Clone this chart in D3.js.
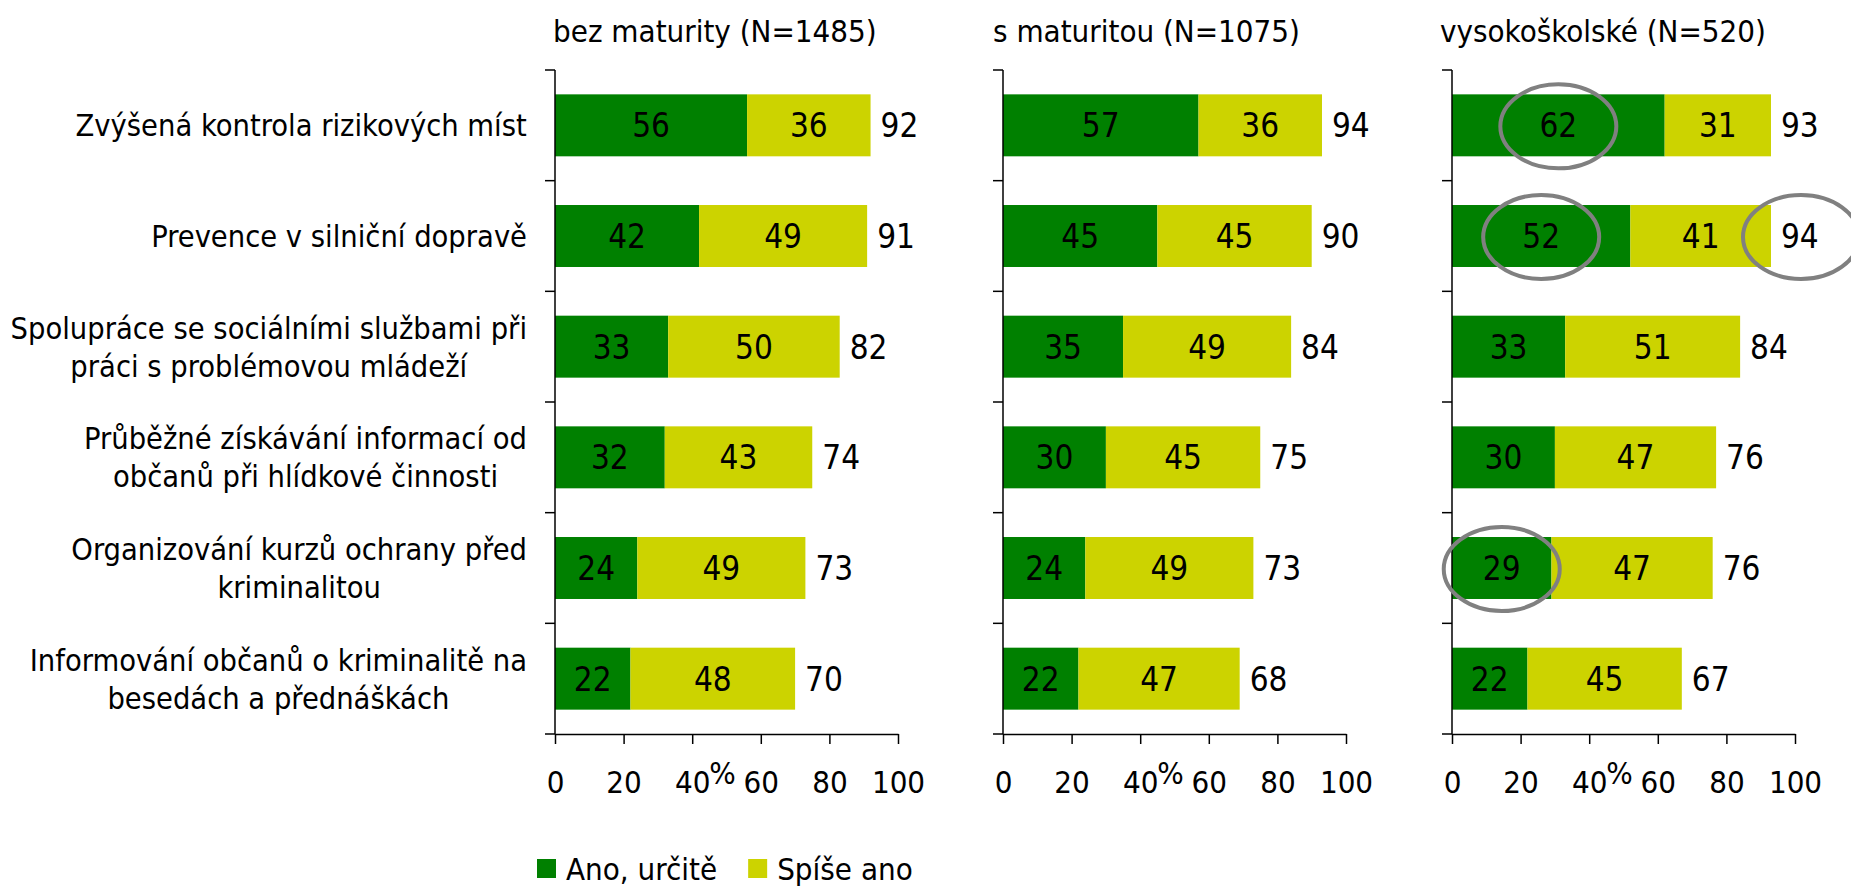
<!DOCTYPE html>
<html>
<head>
<meta charset="utf-8">
<script src="https://cdn.jsdelivr.net/npm/d3@7"></script>
<style>
  body { margin: 0; background: #fff; }
  svg text { font-family: "DejaVu Sans Condensed", "DejaVu Sans", sans-serif; font-stretch: condensed; fill: #000; }
</style>
</head>
<body>
<svg width="1851" height="888"></svg>
<script>
// data
const categories = [
  "Zvýšená kontrola rizikových míst",
  "Prevence v silniční dopravě",
  "Spolupráce se sociálními službami při\npráci s problémovou mládeží",
  "Průběžné získávání informací od\nobčanů při hlídkové činnosti",
  "Organizování kurzů ochrany před\nkriminalitou",
  "Informování občanů o kriminalitě na\nbesedách a přednáškách"
];
const groups = ["bez maturity (N=1485)", "s maturitou (N=1075)", "vysokoškolské (N=520)"];
const anoUrcite = [
  [56, 42, 33, 32, 24, 22],
  [57, 45, 35, 30, 24, 22],
  [62, 52, 33, 30, 29, 22]
];
const spiseAno = [
  [36, 49, 50, 43, 49, 48],
  [36, 45, 49, 45, 49, 47],
  [31, 41, 51, 47, 47, 45]
];
const totals = [
  [92, 91, 82, 74, 73, 70],
  [94, 90, 84, 75, 73, 68],
  [93, 94, 84, 76, 76, 67]
];
const xTicks = [0, 20, 40, 60, 80, 100];
const legendLabels = ["Ano, určitě", "Spíše ano"];
// gray circles drawn in the source (panel, row, which label)
const highlights = [
  {panel: 2, row: 0, part: "ano"},
  {panel: 2, row: 1, part: "ano"},
  {panel: 2, row: 1, part: "total"},
  {panel: 2, row: 4, part: "ano"}
];

const colors = ["#008000", "#ccd300"];

const svg = d3.select("svg");
const plotTop = 70, plotBottom = 734;
const panelLeft = [555, 1003, 1452];
const panelWidth = 343;
const titleShift = [-2, -10, -12];

const y = d3.scaleBand()
    .domain(d3.range(categories.length))
    .range([plotTop, plotBottom])
    .paddingInner(0.44)
    .paddingOuter(0.22);

// category labels (left), lines centred on each other, block right aligned
const catG = svg.append("g").attr("class", "categories");
categories.forEach((c, i) => {
  const lines = c.split("\n");
  const g = catG.append("g");
  const cy = y(i) + y.bandwidth() / 2;
  lines.forEach((l, j) => {
    g.append("text")
      .attr("x", 0)
      .attr("y", cy + (j - (lines.length - 1) / 2) * 38)
      .attr("dy", "0.36em")
      .attr("text-anchor", "middle")
      .style("font-size", "30.5px")
      .text(l);
  });
  const bb = g.node().getBBox();
  g.attr("transform", `translate(${527 - (bb.x + bb.width)},0)`);
});

groups.forEach((name, p) => {
  const x = d3.scaleLinear().domain([0, 100]).range([panelLeft[p], panelLeft[p] + panelWidth]);
  const g = svg.append("g").attr("class", "panel");

  g.append("text")
    .attr("x", panelLeft[p] + titleShift[p])
    .attr("y", 42)
    .style("font-size", "31px")
    .text(name);

  const rows = categories.map((c, i) => ({i, ano: anoUrcite[p][i], spise: spiseAno[p][i], total: totals[p][i]}));

  // bars
  g.selectAll(".ano")
    .data(rows)
    .join("rect")
      .attr("class", "ano")
      .attr("x", x(0))
      .attr("y", d => y(d.i))
      .attr("width", d => x(d.ano) - x(0))
      .attr("height", y.bandwidth())
      .attr("fill", colors[0]);

  g.selectAll(".spise")
    .data(rows)
    .join("rect")
      .attr("class", "spise")
      .attr("x", d => x(d.ano))
      .attr("y", d => y(d.i))
      .attr("width", d => x(d.ano + d.spise) - x(d.ano))
      .attr("height", y.bandwidth())
      .attr("fill", colors[1]);

  // value labels
  g.selectAll(".lab-ano")
    .data(rows)
    .join("text")
      .attr("class", "lab-ano")
      .attr("x", d => x(d.ano / 2))
      .attr("y", d => y(d.i) + y.bandwidth() / 2)
      .attr("dy", "0.36em")
      .attr("text-anchor", "middle")
      .style("font-size", "33px")
      .text(d => d.ano);

  g.selectAll(".lab-spise")
    .data(rows)
    .join("text")
      .attr("class", "lab-spise")
      .attr("x", d => x(d.ano + d.spise / 2))
      .attr("y", d => y(d.i) + y.bandwidth() / 2)
      .attr("dy", "0.36em")
      .attr("text-anchor", "middle")
      .style("font-size", "33px")
      .text(d => d.spise);

  g.selectAll(".lab-total")
    .data(rows)
    .join("text")
      .attr("class", "lab-total")
      .attr("x", d => x(d.ano + d.spise) + 10)
      .attr("y", d => y(d.i) + y.bandwidth() / 2)
      .attr("dy", "0.36em")
      .style("font-size", "33px")
      .text(d => d.total);

  // y axis: line + ticks on category boundaries
  const bounds = d3.range(categories.length + 1).map(k => plotTop + k * y.step());
  g.append("line")
    .attr("x1", x(0)).attr("x2", x(0))
    .attr("y1", plotTop).attr("y2", plotBottom)
    .attr("stroke", "#000").attr("stroke-width", 1.5);
  g.selectAll(".ytick")
    .data(bounds)
    .join("line")
      .attr("class", "ytick")
      .attr("x1", x(0) - 10).attr("x2", x(0))
      .attr("y1", d => d).attr("y2", d => d)
      .attr("stroke", "#000").attr("stroke-width", 1.5);

  // x axis
  const xAxis = g.append("g")
    .attr("transform", `translate(0,${plotBottom})`)
    .call(d3.axisBottom(x).tickValues(xTicks).tickSize(10).tickPadding(27).tickSizeOuter(0));
  xAxis.select(".domain").attr("stroke", "#000").attr("stroke-width", 1.5);
  xAxis.selectAll(".tick line").attr("stroke", "#000").attr("stroke-width", 1.5);
  xAxis.selectAll(".tick text")
    .style("font-size", "31px")
    .attr("dy", "0.71em");
  xAxis.attr("font-family", null).attr("font-size", null);

  g.append("text")
    .attr("x", x(48.8))
    .attr("y", 784)
    .attr("text-anchor", "middle")
    .style("font-size", "31px")
    .text("%");

  // highlight ellipses
  highlights.filter(h => h.panel === p).forEach(h => {
    const r = rows[h.row];
    const cx = h.part === "ano" ? x(r.ano / 2) : x(r.ano + r.spise) + 10 + 20;
    g.append("ellipse")
      .attr("cx", cx)
      .attr("cy", y(r.i) + y.bandwidth() / 2 + 1)
      .attr("rx", 58)
      .attr("ry", 42)
      .attr("fill", "none")
      .attr("stroke", "#808080")
      .attr("stroke-width", 4);
  });
});

// legend
const legend = svg.append("g").attr("transform", "translate(537,859)");
let lx = 0;
legendLabels.forEach((l, i) => {
  const item = legend.append("g").attr("transform", `translate(${lx},0)`);
  item.append("rect").attr("width", 19).attr("height", 19).attr("fill", colors[i]);
  const t = item.append("text")
    .attr("x", 29)
    .attr("y", 21)
    .style("font-size", "31px")
    .text(l);
  lx += 29 + t.node().getComputedTextLength() + 31;
});
</script>
</body>
</html>
